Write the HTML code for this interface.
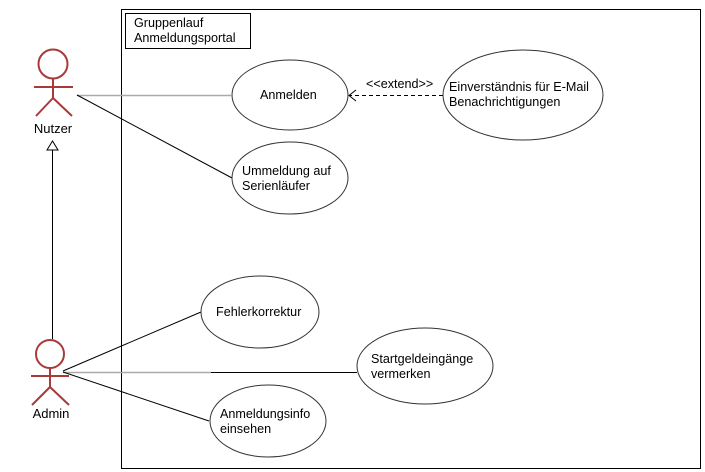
<!DOCTYPE html>
<html><head><meta charset="utf-8">
<style>
html,body{margin:0;padding:0;background:#fff;}
svg{display:block;font-family:"Liberation Sans",Arial,sans-serif;font-size:12.6px;}
</style></head>
<body>
<svg width="705" height="472" viewBox="0 0 705 472">
<rect x="0" y="0" width="705" height="472" fill="#fff"/>
<rect x="121.5" y="9.5" width="579" height="459" fill="none" stroke="#000"/>
<g>
<rect x="125.5" y="13.5" width="125" height="35" fill="none" stroke="#000"/>
<text x="134" y="27">Gruppenlauf</text>
<text x="134" y="42">Anmeldungsportal</text>
</g>

<line x1="77" y1="95.5" x2="231" y2="95.5" stroke="#aaa" stroke-width="1.5"/>
<line x1="77" y1="95" x2="232" y2="178" stroke="#000"/>
<line x1="52.5" y1="150" x2="52.5" y2="339" stroke="#000"/>
<polygon points="52.5,141 47,150 58,150" fill="#fff" stroke="#000"/>
<line x1="63" y1="371" x2="201" y2="312" stroke="#000"/>
<line x1="63" y1="372.5" x2="211" y2="372.5" stroke="#aaa" stroke-width="1.5"/>
<line x1="211" y1="372.5" x2="357" y2="372.5" stroke="#000"/>
<line x1="63" y1="372" x2="209" y2="421" stroke="#000"/>

<line x1="443" y1="95.5" x2="349" y2="95.5" stroke="#000" stroke-dasharray="4,3"/>
<polyline points="356,90 349,95.5 356,101" fill="none" stroke="#000"/>
<text x="366" y="88">&lt;&lt;extend&gt;&gt;</text>

<g>
<ellipse cx="290" cy="95" rx="58" ry="35" fill="#fff" stroke="#333"/>
<text x="260" y="99">Anmelden</text>
</g>
<g>
<ellipse cx="290" cy="178" rx="58" ry="36" fill="#fff" stroke="#333"/>
<text x="242" y="175">Ummeldung auf</text>
<text x="242" y="190">Serienläufer</text>
</g>
<g>
<ellipse cx="523" cy="95" rx="80" ry="45" fill="#fff" stroke="#333"/>
<text x="449" y="91">Einverständnis für E-Mail</text>
<text x="449" y="106">Benachrichtigungen</text>
</g>
<g>
<ellipse cx="260" cy="312" rx="59" ry="36" fill="#fff" stroke="#333"/>
<text x="216" y="316">Fehlerkorrektur</text>
</g>
<g>
<ellipse cx="425" cy="366" rx="68" ry="38" fill="#fff" stroke="#333"/>
<text x="371" y="363">Startgeldeingänge</text>
<text x="371" y="378">vermerken</text>
</g>
<g>
<ellipse cx="268" cy="421" rx="58" ry="36" fill="#fff" stroke="#333"/>
<text x="220" y="418">Anmeldungsinfo</text>
<text x="220" y="433">einsehen</text>
</g>

<g stroke="#a83a3a" stroke-width="2" fill="none">
<circle cx="53" cy="64" r="14.5"/>
<line x1="34" y1="87" x2="73" y2="87"/>
<line x1="53" y1="78.5" x2="53" y2="98"/>
<line x1="53" y1="98" x2="36" y2="116"/>
<line x1="53" y1="98" x2="72" y2="116"/>
</g>
<text x="53" y="133" text-anchor="middle" font-size="13">Nutzer</text>
<g stroke="#a83a3a" stroke-width="2" fill="none">
<circle cx="50" cy="354" r="14"/>
<line x1="31" y1="376" x2="69" y2="376"/>
<line x1="50" y1="368" x2="50" y2="387"/>
<line x1="50" y1="387" x2="32" y2="405"/>
<line x1="50" y1="387" x2="69" y2="405"/>
</g>
<text x="51" y="418" text-anchor="middle" font-size="13">Admin</text>
</svg>
</body></html>
